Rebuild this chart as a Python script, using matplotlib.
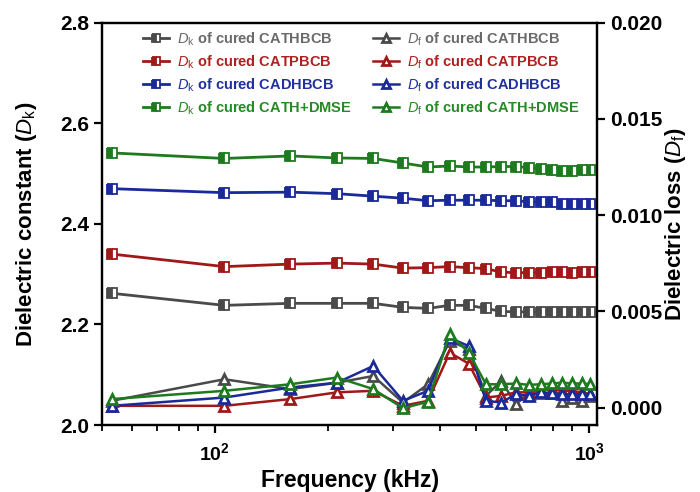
import numpy as np
import matplotlib
matplotlib.use("Agg")
import matplotlib.pyplot as plt
from matplotlib.ticker import LogLocator, NullFormatter

plt.rcParams['font.family'] = ['Liberation Sans', 'DejaVu Sans']
plt.rcParams['mathtext.fontset'] = 'custom'
plt.rcParams['mathtext.rm'] = 'Liberation Sans'
plt.rcParams['mathtext.it'] = 'Liberation Sans:italic'
plt.rcParams['mathtext.bf'] = 'Liberation Sans:bold'
plt.rcParams['mathtext.default'] = 'regular'

# frequency (kHz)
freq = [53, 106, 159, 212, 265, 318, 371, 424, 477, 530,
        583, 636, 689, 742, 795, 848, 901, 954, 1007]

# dielectric constant Dk
dk_cathbcb = [2.262, 2.238, 2.242, 2.242, 2.242, 2.234, 2.232, 2.238, 2.238, 2.232,
              2.226, 2.225, 2.225, 2.225, 2.225, 2.225, 2.225, 2.225, 2.225]
dk_catpbcb = [2.340, 2.315, 2.320, 2.322, 2.320, 2.312, 2.313, 2.315, 2.313, 2.311,
              2.304, 2.303, 2.303, 2.303, 2.304, 2.304, 2.303, 2.305, 2.305]
dk_cadhbcb = [2.470, 2.462, 2.463, 2.460, 2.455, 2.451, 2.446, 2.447, 2.447, 2.447,
              2.446, 2.446, 2.444, 2.443, 2.443, 2.439, 2.439, 2.439, 2.439]
dk_dmse = [2.541, 2.530, 2.535, 2.531, 2.530, 2.521, 2.513, 2.515, 2.513, 2.513,
           2.514, 2.514, 2.512, 2.510, 2.507, 2.505, 2.506, 2.507, 2.508]

# dielectric loss Df
df_cathbcb = [0.00036, 0.00148, 0.00097, 0.00130, 0.00165, 0.00027, 0.00122, 0.00346, 0.00305, 0.00062,
              0.00140, 0.00019, 0.00070, 0.00075, 0.00075, 0.00036, 0.00053, 0.00036, 0.00060]
df_catpbcb = [0.00010, 0.00010, 0.00045, 0.00080, 0.00088, 0.00010, 0.00036, 0.00286, 0.00229, 0.00053,
              0.00062, 0.00080, 0.00080, 0.00088, 0.00097, 0.00088, 0.00088, 0.00080, 0.00070]
df_cadhbcb = [0.00010, 0.00053, 0.00105, 0.00130, 0.00217, 0.00036, 0.00088, 0.00363, 0.00320, 0.00036,
              0.00027, 0.00070, 0.00062, 0.00080, 0.00075, 0.00070, 0.00070, 0.00070, 0.00070]
df_dmse = [0.00045, 0.00088, 0.00122, 0.00157, 0.00097, -0.00002, 0.00031, 0.00384, 0.00286, 0.00122,
           0.00122, 0.00126, 0.00119, 0.00122, 0.00126, 0.00130, 0.00126, 0.00126, 0.00122]

names = ['CATHBCB', 'CATPBCB', 'CADHBCB', 'CATH+DMSE']
colors = ['#4a4a4a', '#a01818', '#1a2a9a', '#1e7a1e']
text_colors = ['#6a6a6a', '#b02020', '#2030a0', '#268a26']

fig, ax = plt.subplots(figsize=(7, 4.92), dpi=100)
fig.subplots_adjust(left=0.146, right=0.853, top=0.954, bottom=0.136)
ax2 = ax.twinx()

handles_dk = []
handles_df = []
for dk, c, n in zip([dk_cathbcb, dk_catpbcb, dk_cadhbcb, dk_dmse], colors, names):
    h, = ax.plot(freq, dk, color=c, lw=2, marker='s', ms=7, fillstyle='left',
                 markerfacecolor=c, markerfacecoloralt='white', markeredgecolor=c,
                 markeredgewidth=1.3, label=r'$\mathit{D}_\mathrm{k}$ of cured ' + n)
    handles_dk.append(h)
for df, c, n in zip([df_cathbcb, df_catpbcb, df_cadhbcb, df_dmse], colors, names):
    h, = ax2.plot(freq, df, color=c, lw=1.8, marker='^', ms=7,
                  markerfacecolor='white', markeredgecolor=c, markeredgewidth=2,
                  label=r'$\mathit{D}_\mathrm{f}$ of cured ' + n)
    handles_df.append(h)

ax.set_xscale('log')
ax.set_xlim(50, 1050)
ax.set_ylim(2.0, 2.8)
ax2.set_ylim(-0.0009, 0.0199)
ax.set_yticks([2.0, 2.2, 2.4, 2.6, 2.8])
ax2.set_yticks([0.0, 0.005, 0.010, 0.015, 0.020])
ax.yaxis.set_major_formatter(plt.FuncFormatter(lambda v, p: f'{v:.1f}'))
ax2.yaxis.set_major_formatter(plt.FuncFormatter(lambda v, p: f'{v:.3f}'))
ax.xaxis.set_major_locator(LogLocator(base=10))
ax.xaxis.set_minor_locator(LogLocator(base=10, subs=np.arange(2, 10)))
ax.xaxis.set_minor_formatter(NullFormatter())

for a in (ax, ax2):
    for s in a.spines.values():
        s.set_linewidth(1.6)
    a.tick_params(which='major', direction='out', length=6, width=1.6, labelsize=15)
    a.tick_params(which='minor', direction='out', length=4, width=1.3)
ax.tick_params(axis='x', which='major', labelsize=14, pad=6)
for lab in ax.get_xticklabels() + ax.get_yticklabels() + ax2.get_yticklabels():
    lab.set_fontweight('bold')

ax.set_xlabel('Frequency (kHz)', fontsize=16.5, fontweight='bold', labelpad=4)
ax.set_ylabel(r'Dielectric constant ($\mathit{D}_\mathrm{k}$)', fontsize=16, fontweight='bold', labelpad=15)
ax2.set_ylabel(r'Dielectric loss ($\mathit{D}_\mathrm{f}$)', fontsize=16, fontweight='bold', labelpad=0.5)

handles = handles_dk + handles_df
leg = ax2.legend(handles=handles, ncol=2, loc='upper left', bbox_to_anchor=(0.056, 1.014),
                 frameon=False, fontsize=10.5, handlelength=1.8, handletextpad=0.5,
                 columnspacing=1.5, labelspacing=0.39, markerscale=0.75)
for t, c in zip(leg.get_texts(), text_colors + text_colors):
    t.set_color(c)
    t.set_fontweight('bold')

fig.savefig('out.png', dpi=100)
